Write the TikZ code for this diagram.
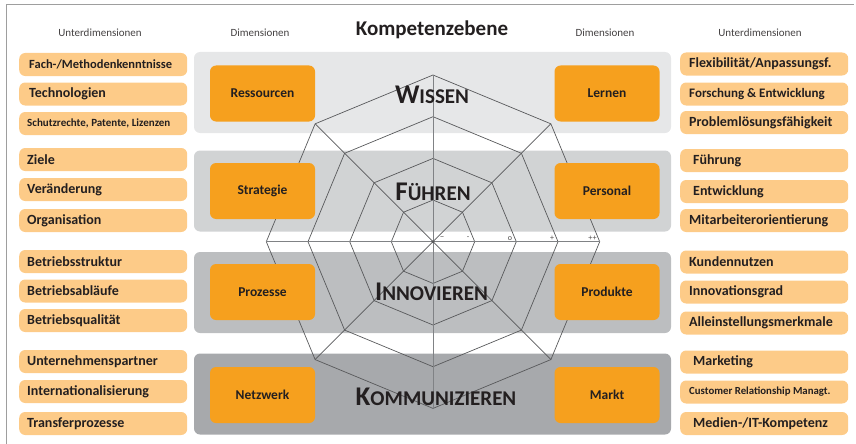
\documentclass[tikz,border=0pt]{standalone}
\usepackage{fontspec}
\setmainfont{Carlito}
\usetikzlibrary{calc}
\definecolor{bandA}{HTML}{E6E7E8}
\definecolor{bandB}{HTML}{D1D3D4}
\definecolor{bandC}{HTML}{BCBEC0}
\definecolor{bandD}{HTML}{A7A9AC}
\definecolor{dimorange}{HTML}{F6A01E}
\definecolor{suborange}{HTML}{FDCB88}
\definecolor{ink}{HTML}{231F20}
\definecolor{spiderline}{HTML}{58595B}
\definecolor{axisgray}{HTML}{808285}
\tikzset{
  band/.style={draw=none, rounded corners=6pt, minimum width=477pt, minimum height=81pt, inner sep=0pt},
  dimbox/.style={fill=dimorange, draw=none, rounded corners=6pt, minimum width=105pt, minimum height=56pt, inner sep=0pt, text=ink, font=\bfseries\fontsize{13.5}{15}\selectfont},
  subbox/.style={fill=suborange, draw=none, rounded corners=6pt, minimum width=168pt, minimum height=23pt, inner sep=0pt},
  subtext/.style={inner sep=0pt, text=ink, anchor=west},
  header/.style={inner sep=0pt, text=ink!85, font=\fontsize{11}{12}\selectfont},
  bigword/.style={inner sep=0pt, text=ink, font=\bfseries},
  spider/.style={draw=spiderline, line width=0.7pt, line join=miter},
  axisline/.style={draw=axisgray, line width=1.4pt},
  tick/.style={inner sep=0pt, text=ink!80, font=\fontsize{8}{8}\selectfont},
}
% #1 name, #2 left x, #3 centre y, #4 font size, #5 indent, #6 text
\newcommand\mysubitem[6]{%
  \node[subbox, anchor=west] (#1) at (#2,#3) {};
  \node[subtext, font=\bfseries\fontsize{#4}{#4}\selectfont] (#1t) at ([xshift=#5pt]#1.west) {#6};
}
\newcommand\bigsc[2]{{\fontsize{27}{27}\selectfont #1}{\fontsize{21}{21}\selectfont #2}}
\begin{document}
\begin{tikzpicture}[x=1pt,y=-1pt]
\useasboundingbox (0,0) rectangle (856,444);
% frame
\draw[draw=black!38, line width=1pt] (6,444) -- (6,5) -- (854,5);
% headers
\node[header] (hul) at (100,33) {Unterdimensionen};
\node[header] (hdl) at (260,33) {Dimensionen};
\node[inner sep=0pt, text=ink, font=\bfseries\fontsize{21}{22}\selectfont] (title) at (432,30) {Kompetenzebene};
\node[header] (hdr) at (605,33) {Dimensionen};
\node[header] (hur) at (760,33) {Unterdimensionen};
% bands
\node[band, fill=bandA] (bw) at (432.5,92.5) {};
\node[band, fill=bandB] (bf) at (432.5,191) {};
\node[band, fill=bandC] (bi) at (432.5,292.5) {};
\node[band, fill=bandD] (bk) at (432.5,394) {};
% spider
\coordinate (C) at (433,241.7);
\begin{scope}[shift={(C)}]
  \foreach \r in {41.7,83.3,125,166.7}{
    \draw[spider] (0:\r) \foreach \a in {45,90,...,315}{ -- (\a:\r)} -- cycle;
  }
  \draw[spider] (45:166.7) -- (225:166.7);
  \draw[spider] (135:166.7) -- (315:166.7);
  \draw[axisline, line width=1pt] (90:166.7) -- (270:166.7);
  \draw[axisline] (180:166.7) -- (0:166.7);
  \fill[spiderline] (0,0) circle (1.6pt);
\end{scope}
\node[tick, font=\fontsize{9}{9}\selectfont] (t1) at (442,238.5) {--};
\node[tick] (t2) at (468,238) {-};
\node[tick] (t3) at (510,238.5) {o};
\node[tick] (t4) at (552,238) {+};
\node[tick] (t5) at (592.5,238) {++};
% dimension boxes
\node[dimbox] (ress) at (262.5,93.5) {Ressourcen};
\node[dimbox] (lern) at (607,93.5) {Lernen};
\node[dimbox] (strat) at (262.5,191) {Strategie};
\node[dimbox] (pers) at (607,191) {Personal};
\node[dimbox] (proz) at (262.5,292) {Prozesse};
\node[dimbox] (prod) at (607,292) {Produkte};
\node[dimbox] (netz) at (262.5,395) {Netzwerk};
\node[dimbox] (markt) at (607,395) {Markt};
% big words
\node[bigword] (wissen) at (432,95) {\bigsc{W}{ISSEN}};
\node[bigword] (fuehren) at (433,192) {\bigsc{F}{ÜHREN}};
\node[bigword] (innov) at (431.5,292) {\bigsc{I}{NNOVIEREN}};
\node[bigword] (komm) at (436,397) {\bigsc{K}{OMMUNIZIEREN}};
% left sub-dimensions
\mysubitem{l1}{19}{64.5}{12.5}{10}{Fach-/Methodenkenntnisse}
\mysubitem{l2}{19}{94}{14}{10}{Technologien}
\mysubitem{l3}{19}{123.5}{11}{8}{Schutzrechte, Patente, Lizenzen}
\mysubitem{l4}{19}{159.5}{14}{8}{Ziele}
\mysubitem{l5}{19}{189.5}{14}{8}{Veränderung}
\mysubitem{l6}{19}{220.5}{14}{8}{Organisation}
\mysubitem{l7}{19}{261.5}{14}{8}{Betriebsstruktur}
\mysubitem{l8}{19}{291}{14}{8}{Betriebsabläufe}
\mysubitem{l9}{19}{320.5}{14}{8}{Betriebsqualität}
\mysubitem{l10}{19}{361.5}{14}{8}{Unternehmenspartner}
\mysubitem{l11}{19}{391.5}{14}{8}{Internationalisierung}
\mysubitem{l12}{19}{423.5}{14}{8}{Transferprozesse}
% right sub-dimensions
\mysubitem{r1}{680}{64}{14}{9}{Flexibilität/Anpassungsf.}
\mysubitem{r2}{680}{94}{13}{9}{Forschung \& Entwicklung}
\mysubitem{r3}{680}{122.5}{14}{9}{Problemlösungsfähigkeit}
\mysubitem{r4}{680}{160.5}{14}{13}{Führung}
\mysubitem{r5}{680}{191.5}{14}{13}{Entwicklung}
\mysubitem{r6}{680}{220.5}{14}{9}{Mitarbeiterorientierung}
\mysubitem{r7}{680}{262}{14}{9}{Kundennutzen}
\mysubitem{r8}{680}{292}{14}{9}{Innovationsgrad}
\mysubitem{r9}{680}{323}{14}{9}{Alleinstellungsmerkmale}
\mysubitem{r10}{680}{362}{14}{13}{Marketing}
\mysubitem{r11}{680}{392}{10.8}{9}{Customer Relationship Managt.}
\mysubitem{r12}{680}{423.5}{14}{13}{Medien-/IT-Kompetenz}
\end{tikzpicture}
\end{document}
